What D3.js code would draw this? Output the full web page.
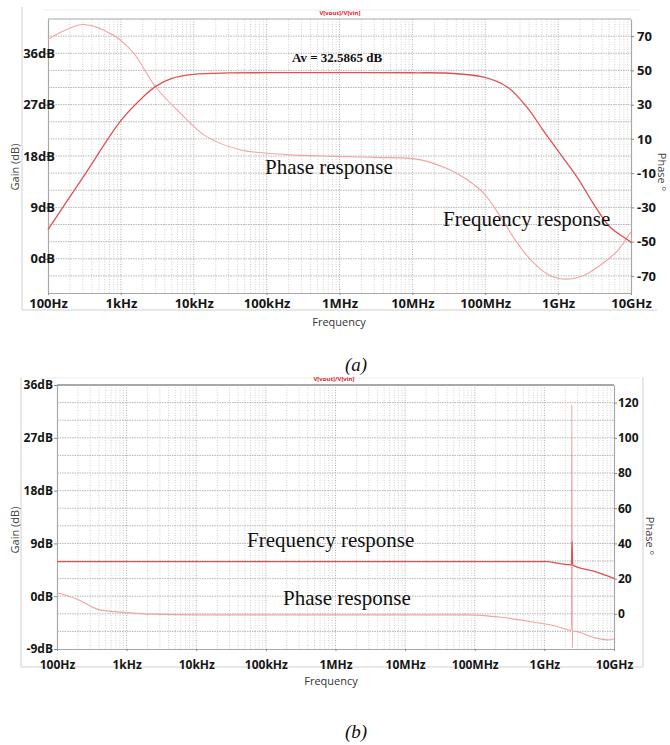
<!DOCTYPE html>
<html>
<head>
<meta charset="utf-8">
<script src="https://cdn.jsdelivr.net/npm/d3@7"></script>
<style>
body { margin: 0; background: #fff; }
svg text { font-family: "Open Sans", sans-serif; }
</style>
</head>
<body>
<div id="chart"></div>
<script>
// frequency ticks, shared by both plots
var freqTicks = [1e2, 1e3, 1e4, 1e5, 1e6, 1e7, 1e8, 1e9, 1e10];
var freqLabels = ["100Hz", "1kHz", "10kHz", "100kHz", "1MHz", "10MHz", "100MHz", "1GHz", "10GHz"];

// (a) gain
var gainAFreq = [1e2, 3e2, 1e3, 2e3, 3e3, 5e3, 1e4, 3e4, 1e5, 1e6, 1e7, 3.2e7, 9.3e7, 2e8, 3.7e8, 6.2e8, 1.05e9, 1.8e9, 3e9, 5.1e9, 9.5e9, 1e10];
var gainADb = [5.1, 14.2, 24.2, 28.3, 30.2, 31.6, 32.3, 32.55, 32.59, 32.59, 32.58, 32.5, 31.85, 30.1, 26.6, 22.55, 18.5, 14.4, 9.8, 5.6, 3.1, 2.8];

// (a) phase
var phaseAFreq = [1e2, 3e2, 7.8e2, 1.5e3, 3e3, 6.5e3, 1.5e4, 4.3e4, 1.9e5, 8.7e5, 3e6, 1.26e7, 3.2e7, 5.6e7, 9.3e7, 1.6e8, 2.7e8, 4.5e8, 7.8e8, 1.3e9, 2.2e9, 3.7e9, 6.5e9, 9.5e9, 1e10];
var phaseADeg = [68.1, 76.8, 70.6, 60, 40.3, 25.2, 11.3, 3.7, 0.8, -0.2, -0.8, -2.1, -7.9, -13.7, -21.3, -35.1, -50.3, -62, -69.9, -71.9, -69.9, -64.1, -55.4, -45.7, -44.4];

var gainTicksA = [0, 9, 18, 27, 36];
var phaseTicksA = [-70, -50, -30, -10, 10, 30, 50, 70];

// (b) gain, flat with a glitch near 2.5GHz
var gainBFreq = [1e2, 1e4, 1e6, 1e8, 1.1e9, 1.6e9, 2.45e9, 2.5e9, 2.55e9, 5.4e9, 1e10];
var gainBDb = [5.9, 5.9, 5.9, 5.9, 5.9, 5.6, 5.35, 9.3, 5.3, 4.2, 3.05];

// (b) phase
var phaseBFreq = [1e2, 1.95e2, 4.2e2, 1e3, 2.2e3, 1.1e4, 1e6, 8e7, 2.45e8, 7.4e8, 1.4e9, 2.45e9, 2.48e9, 2.52e9, 2.55e9, 5.4e9, 8.1e9, 1e10];
var phaseBDeg = [12, 8.3, 2.1, 0.7, -0.2, -0.6, -0.6, -0.6, -2, -4.9, -6.8, -9.4, 119, -19.5, -9.8, -13.7, -14.8, -14.3];

var gainTicksB = [-9, 0, 9, 18, 27, 36];
var phaseTicksB = [0, 20, 40, 60, 80, 100, 120];

var width = 670,
	height = 745,
	RED = "#e05050",
	PINK = "#f0a4a4";

var svg = d3.select("#chart").append("svg")
	.attr("width", width)
	.attr("height", height)
	.style("background", "#fff");

var draw_panel = function(p) {
	var g = svg.append("g");

	var x = d3.scaleLog().domain([1e2, 1e10]).range([p.left, p.right]);
	var yGain = d3.scaleLinear().domain(p.gainDomain).range([p.bottom, p.top]);
	var yPhase = d3.scaleLinear().domain(p.phaseDomain).range([p.bottom, p.top]);

	// light frame round the whole plot
	p.frame.forEach(function(f) {
		g.append("line")
			.attr("x1", f[0]).attr("y1", f[1])
			.attr("x2", f[2]).attr("y2", f[3])
			.style("stroke", f[4] || "#d0d0d0")
			.style("stroke-width", 1);
	});

	// grid, minor decades first
	var minor = [];
	freqTicks.slice(0, -1).forEach(function(d) {
		for (var m = 2; m < 10; m += 1) minor.push(d * m);
	});

	g.selectAll(".minor")
		.data(minor)
		.enter()
		.append("line")
		.attr("x1", function(d) { return x(d); })
		.attr("x2", function(d) { return x(d); })
		.attr("y1", p.top)
		.attr("y2", p.bottom)
		.style("stroke", "#c6c6c6")
		.style("stroke-width", 0.8)
		.style("stroke-dasharray", "1,1.5");

	g.selectAll(".major")
		.data(freqTicks.slice(1, -1))
		.enter()
		.append("line")
		.attr("x1", function(d) { return x(d); })
		.attr("x2", function(d) { return x(d); })
		.attr("y1", p.top)
		.attr("y2", p.bottom)
		.style("stroke", "#9a9a9a")
		.style("stroke-width", 0.8)
		.style("stroke-dasharray", "1,1.5");

	g.selectAll(".hgrid")
		.data(d3.range(p.gainDomain[0] + 3, p.gainDomain[1], 3))
		.enter()
		.append("line")
		.attr("x1", p.left)
		.attr("x2", p.right)
		.attr("y1", function(d) { return yGain(d); })
		.attr("y2", function(d) { return yGain(d); })
		.style("stroke", "#a4a4a4")
		.style("stroke-width", 0.8)
		.style("stroke-dasharray", "1.5,1");

	// top edge of the plot
	g.append("line")
		.attr("x1", p.left).attr("x2", p.right)
		.attr("y1", p.top).attr("y2", p.top)
		.style("stroke", "#a8a8a8")
		.style("stroke-width", p.topWidth);

	// axes
	var bottomAxis = g.append("g")
		.attr("transform", "translate(0," + p.bottom + ")")
		.call(d3.axisBottom(x)
			.tickValues(freqTicks)
			.tickFormat(function(d, i) { return freqLabels[i]; })
			.tickSizeInner(2)
			.tickSizeOuter(0)
			.tickPadding(p.xPad));

	var leftAxis = g.append("g")
		.attr("transform", "translate(" + p.left + ",0)")
		.call(d3.axisLeft(yGain)
			.tickValues(p.gainTicks)
			.tickFormat(function(d) { return d + "dB"; })
			.tickSizeInner(3)
			.tickSizeOuter(0)
			.tickPadding(p.leftPad));

	var rightAxis = g.append("g")
		.attr("transform", "translate(" + p.right + ",0)")
		.call(d3.axisRight(yPhase)
			.tickValues(p.phaseTicks)
			.tickFormat(function(d) { return String(d); })
			.tickSizeInner(3)
			.tickSizeOuter(0)
			.tickPadding(p.rightPad));

	[bottomAxis, leftAxis, rightAxis].forEach(function(a) {
		a.select(".domain").style("stroke", "#a8a8a8").style("stroke-width", 1.2);
		a.selectAll(".tick line").style("stroke", "#888");
		a.selectAll("text")
			.style("font-size", p.tickSize + "px")
			.style("font-weight", "bold")
			.style("fill", "#161616");
	});

	// curves
	var line = d3.line()
		.x(function(d) { return x(d[0]); })
		.y(function(d) { return d[1]; })
		.curve(p.curve);

	g.append("path")
		.attr("d", line(p.phaseF.map(function(f, i) { return [f, yPhase(p.phaseV[i])]; })))
		.style("fill", "none")
		.style("stroke", PINK)
		.style("stroke-width", 1.1);

	g.append("path")
		.attr("d", line(p.gainF.map(function(f, i) { return [f, yGain(p.gainV[i])]; })))
		.style("fill", "none")
		.style("stroke", RED)
		.style("stroke-width", 1.3);

	// tiny trace name
	g.append("text")
		.attr("x", p.traceX)
		.attr("y", p.top - 4)
		.attr("text-anchor", "middle")
		.style("font-size", "6px")
		.style("font-weight", "bold")
		.style("fill", "#e02020")
		.text("V[vout]/V[vin]");

	// axis titles
	g.append("text")
		.attr("transform", "translate(" + 15 + "," + p.gainTitleY + ") rotate(-90)")
		.attr("text-anchor", "middle")
		.attr("dy", "0.35em")
		.style("font-size", "11px")
		.style("fill", "#444")
		.text("Gain (dB)");

	g.append("text")
		.attr("transform", "translate(" + p.phaseTitleX + "," + p.phaseTitleY + ") rotate(90)")
		.attr("text-anchor", "middle")
		.attr("dy", "0.35em")
		.style("font-size", "11px")
		.style("fill", "#444")
		.text("Phase \u00b0");

	g.append("text")
		.attr("x", p.freqTitleX)
		.attr("y", p.freqTitleY)
		.attr("text-anchor", "middle")
		.attr("dy", "0.35em")
		.style("font-size", "11px")
		.style("fill", "#333")
		.text("Frequency");

	// annotations
	p.notes.forEach(function(n) {
		g.append("text")
			.attr("x", n.x)
			.attr("y", n.y)
			.style("font-family", "'Liberation Serif', 'Times New Roman', serif")
			.style("font-size", n.size + "px")
			.style("font-weight", n.bold ? "bold" : "normal")
			.style("fill", "#111")
			.text(n.text);
	});

	g.append("text")
		.attr("x", 356)
		.attr("y", p.captionY)
		.attr("text-anchor", "middle")
		.style("font-family", "'Liberation Serif', 'Times New Roman', serif")
		.style("font-style", "italic")
		.style("font-size", "19px")
		.style("fill", "#111")
		.text(p.caption);
};

draw_panel({
	left: 48, right: 631, top: 19, bottom: 293,
	gainDomain: [-6, 42], phaseDomain: [-80, 80],
	gainTicks: gainTicksA, phaseTicks: phaseTicksA,
	gainF: gainAFreq, gainV: gainADb,
	phaseF: phaseAFreq, phaseV: phaseADeg,
	curve: d3.curveCatmullRom.alpha(0.5),
	frame: [[22, 7, 22, 310], [22, 310, 657, 310], [43, 10, 640, 10, "#ececec"]],
	topWidth: 1.2,
	tickSize: 13,
	xPad: 4, leftPad: -10, rightPad: 3,
	traceX: 340,
	gainTitleY: 167, phaseTitleX: 662, phaseTitleY: 172,
	freqTitleX: 339, freqTitleY: 322,
	notes: [
		{ text: "Av = 32.5865 dB", x: 292, y: 61.5, size: 13, bold: true },
		{ text: "Phase response", x: 265, y: 174, size: 21 },
		{ text: "Frequency response", x: 443, y: 226, size: 21 }
	],
	caption: "(a)", captionY: 371
});

draw_panel({
	left: 57, right: 614, top: 385, bottom: 649,
	gainDomain: [-9, 36], phaseDomain: [-20, 130],
	gainTicks: gainTicksB, phaseTicks: phaseTicksB,
	gainF: gainBFreq, gainV: gainBDb,
	phaseF: phaseBFreq, phaseV: phaseBDeg,
	curve: d3.curveMonotoneX,
	frame: [[21, 377, 21, 667], [21, 667, 643, 667], [643, 377, 643, 667], [40, 378, 640, 378, "#ececec"]],
	topWidth: 2.2,
	tickSize: 12,
	xPad: 9, leftPad: 1, rightPad: 1,
	traceX: 334,
	gainTitleY: 530, phaseTitleX: 650, phaseTitleY: 536,
	freqTitleX: 331, freqTitleY: 681,
	notes: [
		{ text: "Frequency response", x: 247, y: 547, size: 21 },
		{ text: "Phase response", x: 283, y: 605, size: 21 }
	],
	caption: "(b)", captionY: 738
});
</script>
</body>
</html>
